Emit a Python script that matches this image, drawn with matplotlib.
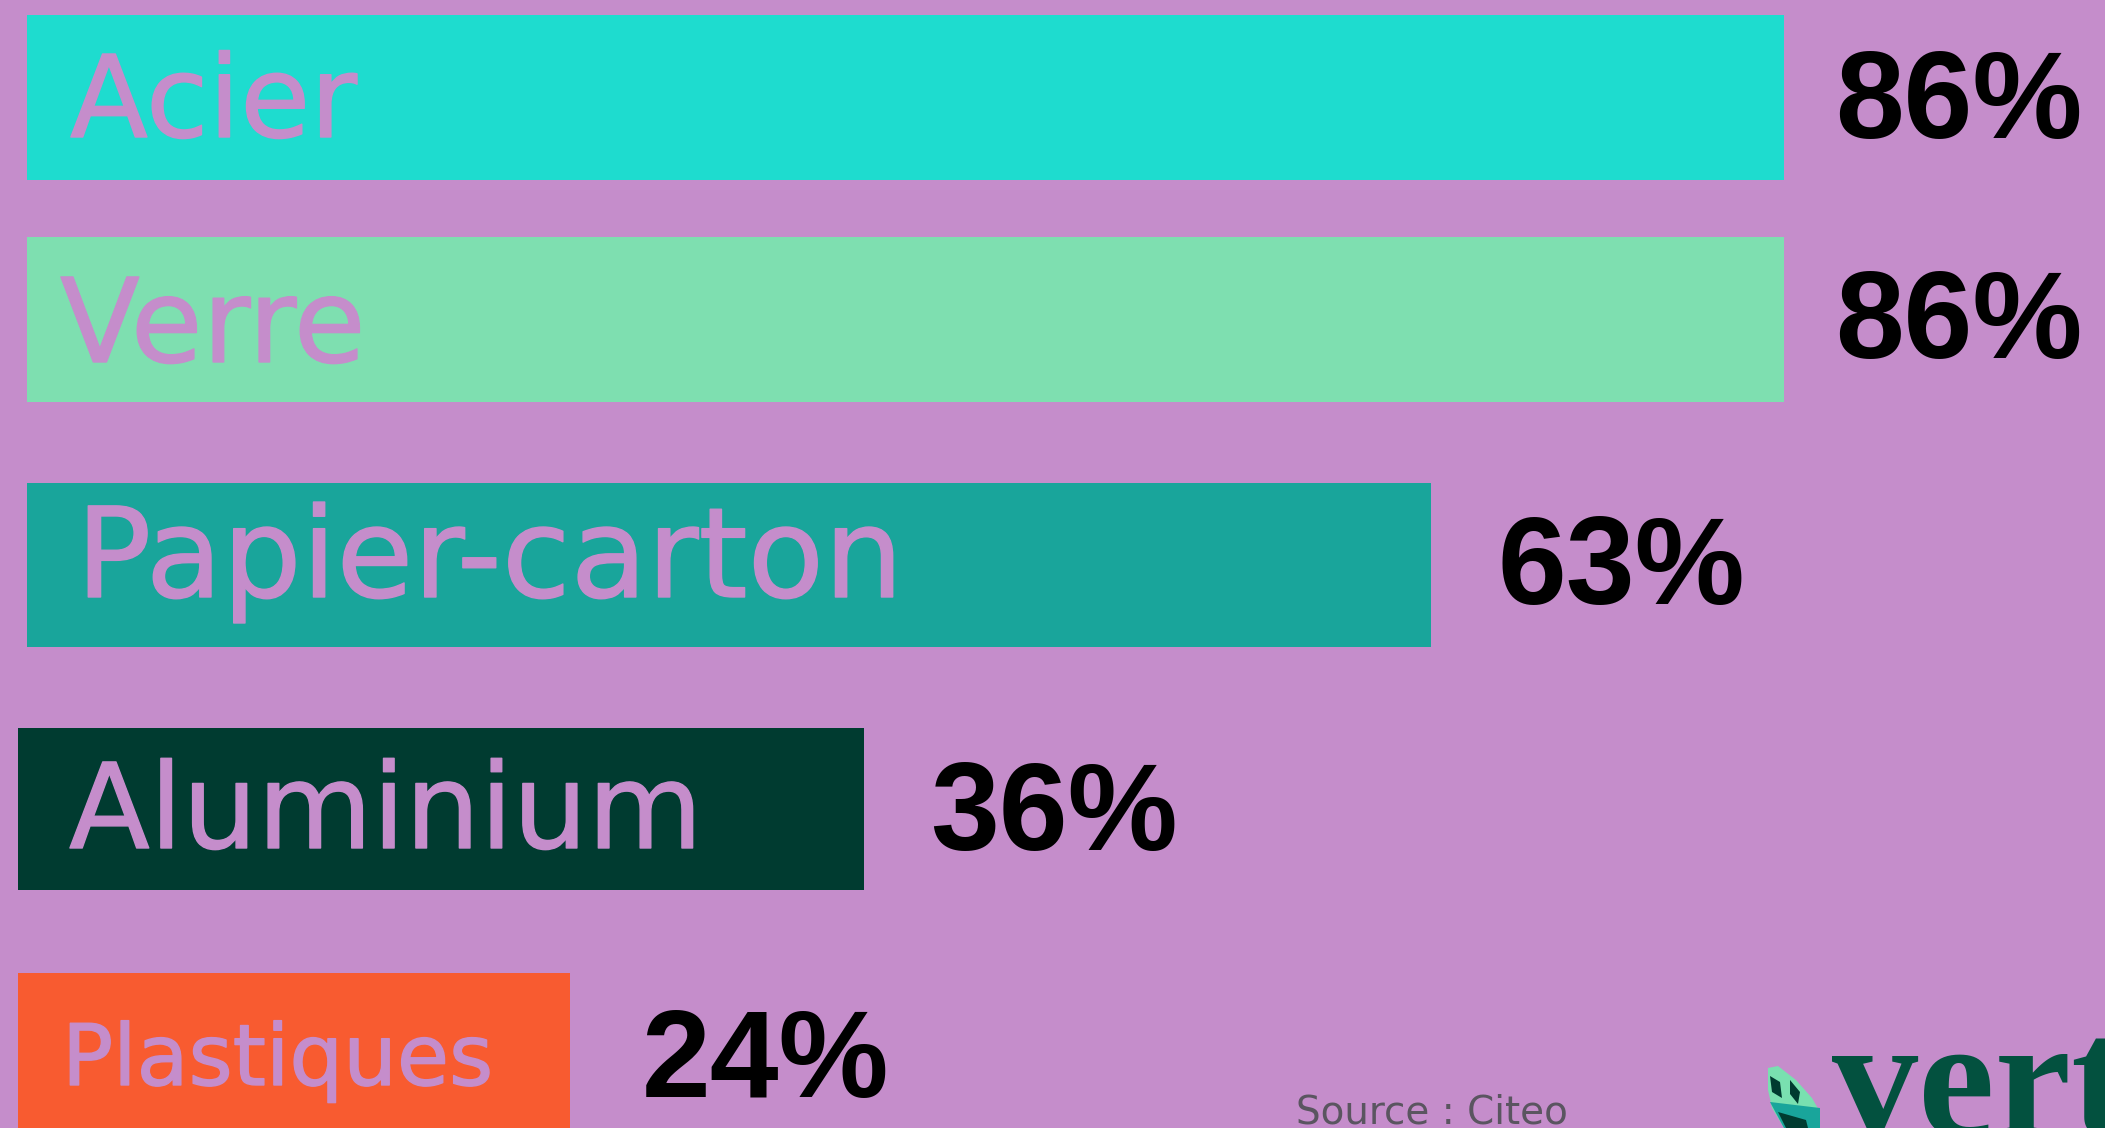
import matplotlib
matplotlib.use("Agg")
import matplotlib.pyplot as plt
import matplotlib.patheffects as pe
from matplotlib.patches import Polygon

W, H = 2105, 1128

categories = ["Acier", "Verre", "Papier-carton", "Aluminium", "Plastiques"]
percent_labels = ["86%", "86%", "63%", "36%", "24%"]
# the bars in the picture are not to scale, so drawn lengths are read apart from the labels
drawn_lengths = [86.0, 86.0, 68.7, 41.4, 27.0]

bar_colors = ["#1EDCCF", "#7EDFB0", "#19A59B", "#003B30", "#F85B30"]
BG = "#C58DCB"

# layout, in pixels of the picture
bar_left = [27, 27, 27, 18, 18]
bar_top = [15, 237, 483, 728, 973]
bar_bottom = [180, 402, 647, 890, 1140]
name_x = [70, 60, 76, 69, 62]
name_base = [137, 362, 597, 848, 1085]
name_size = [82, 84, 90, 85, 61]
pct_x = [1835, 1835, 1497, 930, 642]
pct_base = [138, 358, 604, 850, 1097]

PX_PER_PCT = 1757 / 86

fig = plt.figure(figsize=(W / 100, H / 100), dpi=100, facecolor=BG)

# bars: x in percent, y in pixels
ax = fig.add_axes([0, 0, 1, 1])
ax.set_xlim(0, W / PX_PER_PCT)
ax.set_ylim(H, 0)
ax.axis("off")
for i, name in enumerate(categories):
    ax.barh(
        (bar_top[i] + bar_bottom[i]) / 2,
        drawn_lengths[i],
        height=bar_bottom[i] - bar_top[i],
        left=bar_left[i] / PX_PER_PCT,
        color=bar_colors[i],
    )

# everything else sits on a pixel overlay
px = fig.add_axes([0, 0, 1, 1])
px.set_xlim(0, W)
px.set_ylim(H, 0)
px.axis("off")

for i, name in enumerate(categories):
    # thin stroke to get closer to the medium weight of the reference
    px.text(name_x[i], name_base[i], name, color=BG, family="DejaVu Sans",
            fontsize=name_size[i], va="baseline", ha="left",
            path_effects=[pe.withStroke(linewidth=1, foreground=BG)])
    px.text(pct_x[i], pct_base[i], percent_labels[i], color="black",
            family="Liberation Sans", weight="bold", fontsize=89,
            va="baseline", ha="left")

px.text(1296, 1124, "Source : Citeo", color="#5A5560", family="DejaVu Sans",
        fontsize=28, va="baseline", ha="left")

# logo, cut off by the edge of the picture
px.text(1832, 1135, "vert", color="#03513F", family="Liberation Serif",
        weight="bold", fontsize=124, va="baseline", ha="left")
leaf = [(1768, 1068), (1778, 1066), (1796, 1080), (1812, 1098), (1820, 1112),
        (1820, 1128), (1784, 1128), (1772, 1108), (1768, 1090)]
px.add_patch(Polygon(leaf, closed=True, color="#79E0B0", lw=0))
px.add_patch(Polygon([(1770, 1102), (1820, 1108), (1820, 1128), (1784, 1128)],
                     closed=True, color="#19A59B", lw=0))
px.add_patch(Polygon([(1770, 1076), (1780, 1082), (1782, 1098), (1772, 1092)],
                     closed=True, color="#003B30", lw=0))
px.add_patch(Polygon([(1790, 1080), (1800, 1092), (1798, 1104), (1790, 1094)],
                     closed=True, color="#003B30", lw=0))
px.add_patch(Polygon([(1778, 1112), (1806, 1120), (1808, 1128), (1786, 1128)],
                     closed=True, color="#003B30", lw=0))

fig.savefig("out.png", dpi=100, facecolor=BG)
